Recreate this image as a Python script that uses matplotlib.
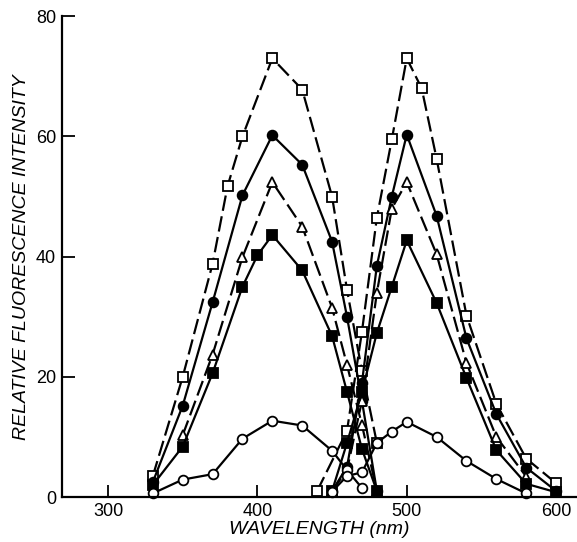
import matplotlib.pyplot as plt

# excitation (left) and emission (right) spectra, five samples
# open squares, dashed
osq_ex_wl = [330, 350, 370, 380, 390, 410, 430, 450, 460, 470, 480]
osq_ex = [3.5, 20, 38.8, 51.7, 60, 73, 67.8, 50, 34.5, 21, 9]
osq_em_wl = [440, 460, 470, 480, 490, 500, 510, 520, 540, 560, 580, 600]
osq_em = [1, 11, 27.5, 46.5, 59.5, 73, 68, 56.3, 30.2, 15.5, 6.4, 2.3]

# filled circles, solid
fci_ex_wl = [330, 350, 370, 390, 410, 430, 450, 460, 470, 480]
fci_ex = [2.5, 15.2, 32.4, 50.2, 60.2, 55.3, 42.5, 30, 16, 1]
fci_em_wl = [450, 460, 470, 480, 490, 500, 520, 540, 560, 580, 600]
fci_em = [1, 5, 19, 38.5, 50, 60.3, 46.8, 26.4, 13.8, 4.9, 1]

# open triangles, dashed
otr_ex_wl = [350, 370, 390, 410, 430, 450, 460, 470, 480]
otr_ex = [10.3, 23.7, 39.9, 52.4, 45, 31.5, 22, 12, 1]
otr_em_wl = [450, 460, 470, 480, 490, 500, 520, 540, 560, 580]
otr_em = [1, 4.5, 16, 34, 48, 52.4, 40.4, 22.3, 10, 3.4]

# filled squares, solid
fsq_ex_wl = [330, 350, 370, 390, 400, 410, 430, 450, 460, 470, 480]
fsq_ex = [2, 8.4, 20.6, 35, 40.2, 43.6, 37.7, 26.8, 17.5, 8, 1]
fsq_em_wl = [450, 460, 470, 480, 490, 500, 520, 540, 560, 580, 600]
fsq_em = [1, 9, 17.5, 27.3, 35, 42.7, 32.3, 19.8, 7.8, 2.2, 0.8]

# open circles, solid
oci_ex_wl = [330, 350, 370, 390, 410, 430, 450, 460, 470]
oci_ex = [0.6, 2.9, 3.8, 9.7, 12.7, 11.9, 7.7, 4.5, 1.5]
oci_em_wl = [450, 460, 470, 480, 490, 500, 520, 540, 560, 580]
oci_em = [0.9, 3.5, 4.1, 9, 10.9, 12.5, 10, 6, 3, 0.6]

fig = plt.figure(figsize=(5.77, 5.42), dpi=100)
ax = fig.add_axes((0.107, 0.083, 0.893, 0.887))

dash = (0, (7, 2.5))
styles = [
    (osq_ex_wl, osq_ex, osq_em_wl, osq_em, 's', 'white', dash),
    (fci_ex_wl, fci_ex, fci_em_wl, fci_em, 'o', 'black', '-'),
    (otr_ex_wl, otr_ex, otr_em_wl, otr_em, '^', 'white', dash),
    (fsq_ex_wl, fsq_ex, fsq_em_wl, fsq_em, 's', 'black', '-'),
    (oci_ex_wl, oci_ex, oci_em_wl, oci_em, 'o', 'white', '-'),
]
for xa, ya, xb, yb, m, fc, ls in styles:
    for xx, yy in [(xa, ya), (xb, yb)]:
        ax.plot(xx, yy, color='black', lw=1.6, ls=ls, marker=m, ms=7,
                mfc=fc, mec='black', mew=1.3, clip_on=False)

ax.set_xlim(269, 614)
ax.set_ylim(0, 80)
ax.set_xticks([300, 400, 500, 600])
ax.set_yticks([0, 20, 40, 60, 80])
ax.spines['top'].set_visible(False)
ax.spines['right'].set_visible(False)
for s in ['left', 'bottom']:
    ax.spines[s].set_linewidth(1.6)
ax.tick_params(direction='in', length=9, width=1.3, labelsize=13, pad=4)
for lab in ax.get_xticklabels() + ax.get_yticklabels():
    lab.set_family(['Liberation Sans', 'DejaVu Sans'])

lab_font = dict(family=['Liberation Sans Narrow', 'Liberation Sans', 'DejaVu Sans'],
                style='italic', fontsize=14)
ax.set_xlabel('WAVELENGTH (nm)', labelpad=1, **lab_font)
ax.set_ylabel('RELATIVE FLUORESCENCE INTENSITY', labelpad=4, **lab_font)

fig.savefig('out.png', dpi=100)
